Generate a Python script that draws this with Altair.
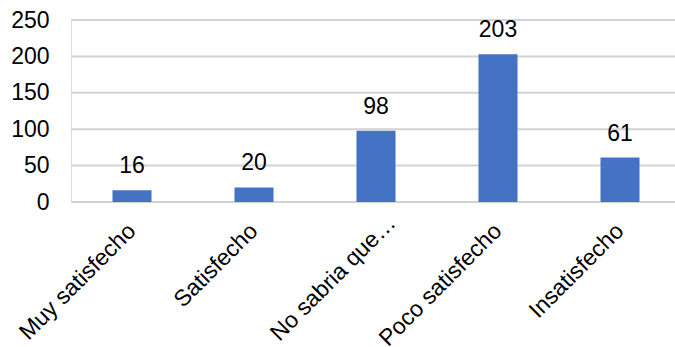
import altair as alt
import pandas as pd

# Survey responses: satisfaction level and count
categories = ["Muy satisfecho", "Satisfecho", "No sabria que…", "Poco satisfecho", "Insatisfecho"]
counts = [16, 20, 98, 203, 61]
y_ticks = [0, 50, 100, 150, 200, 250]

df = pd.DataFrame({"categoria": categories, "valor": counts})
grid_df = pd.DataFrame({"valor": y_ticks})

FONT = "Liberation Sans"
BLUE = "#4472C4"
FS = 23
W, H = 604, 182

y_scale = alt.Scale(domain=[0, 250], nice=False)
y_axis = alt.Axis(
    values=y_ticks,
    labelFont=FONT,
    labelFontSize=FS,
    labelColor="#000000",
    labelPadding=22,
    labelOverlap=False,
    ticks=False,
    domain=False,
    grid=False,
)

# Horizontal gridlines at each tick value, spanning the full plot width
grid = alt.Chart(grid_df).mark_rule(color="#d3d3d3", strokeWidth=2).encode(
    y=alt.Y("valor:Q", scale=y_scale, title=None, axis=y_axis),
    x=alt.value(0),
    x2=alt.value(W),
)

truncated = "datum.value == 'No sabria que…'"

base = alt.Chart(df).encode(
    x=alt.X(
        "categoria:N",
        sort=categories,
        title=None,
        scale=alt.Scale(range=[0, 610], paddingInner=0.68, paddingOuter=0.34),
        axis=alt.Axis(
            labelAngle=-45,
            labelAlign="right",
            labelBaseline="middle",
            labelFont=FONT,
            labelFontSize=FS,
            labelColor="#000000",
            labelPadding=alt.condition(truncated, alt.value(17), alt.value(25)),
            labelOffset=alt.condition(truncated, alt.value(16), alt.value(0)),
            ticks=False,
            domain=False,
            grid=False,
            labelOverlap=False,
        ),
    ),
    y=alt.Y("valor:Q", title=None, scale=y_scale, axis=y_axis),
)

bars = base.mark_bar(color=BLUE)

labels = base.mark_text(
    font=FONT, fontSize=FS, color="#000000", baseline="alphabetic", dy=-17
).encode(text="valor:Q")

chart = (
    alt.layer(grid, bars, labels)
    .properties(
        width=W,
        height=H,
        autosize=alt.AutoSizeParams(type="none"),
        padding={"left": 71, "top": 20, "right": 0, "bottom": 145},
    )
    .configure_view(strokeWidth=0)
    .configure(background="white")
)

chart.save("out.html", embed_options={"renderer": "svg", "actions": False})
